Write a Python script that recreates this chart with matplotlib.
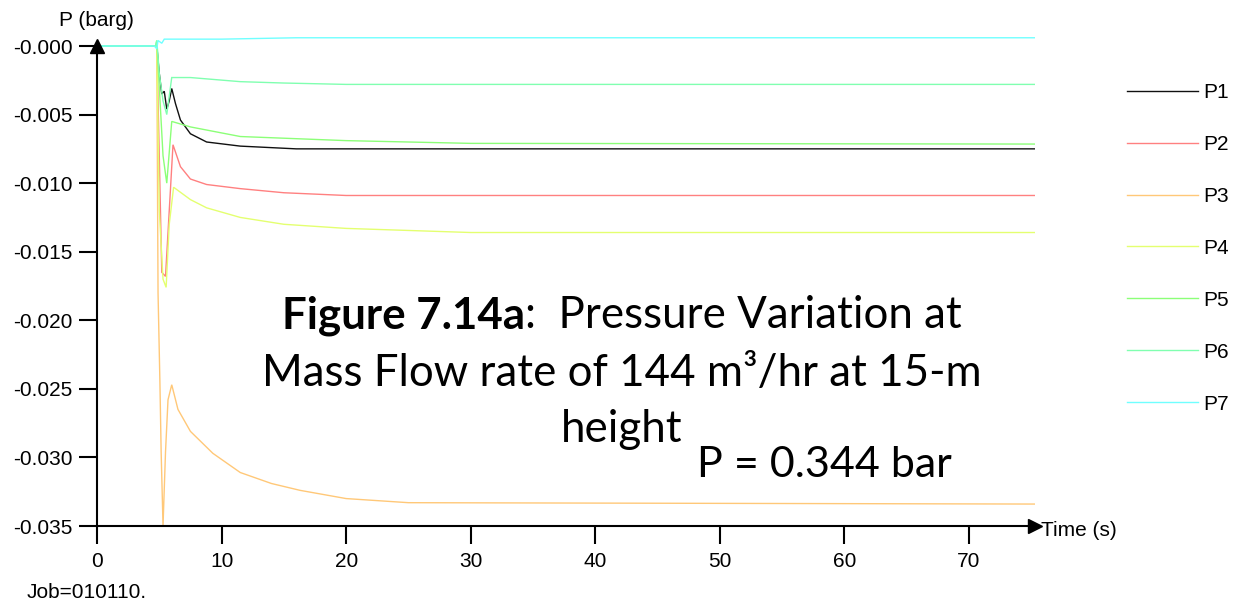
import matplotlib
matplotlib.use("Agg")
import matplotlib.pyplot as plt

plt.rcParams['font.family'] = ['Liberation Sans', 'DejaVu Sans']

# ---- data ----
P1_t = [0, 4.8, 5.0, 5.2, 5.4, 5.6, 5.8, 6.0, 6.3, 6.7, 7.5, 8.8, 11.5, 16, 75.3]
P1_v = [0, 0, -0.0020, -0.0035, -0.0033, -0.0046, -0.0040, -0.0031, -0.0042,
        -0.0054, -0.0064, -0.0070, -0.0073, -0.0075, -0.0075]

P2_t = [0, 4.8, 5.0, 5.2, 5.5, 5.8, 6.1, 6.7, 7.5, 8.8, 11.5, 15, 20, 75.3]
P2_v = [0, 0, -0.0080, -0.0165, -0.0168, -0.0120, -0.0072, -0.0088, -0.0097,
        -0.0101, -0.0104, -0.0107, -0.0109, -0.0109]

P3_t = [0, 4.8, 4.9, 5.05, 5.15, 5.3, 5.5, 5.7, 6.0, 6.5, 7.5, 9.3, 11.5, 14,
        16.3, 20, 25, 75.3]
P3_v = [0, 0, -0.0180, -0.0245, -0.0296, -0.0350, -0.0296, -0.0258, -0.0247,
        -0.0265, -0.0281, -0.0297, -0.0311, -0.0319, -0.0324, -0.0330,
        -0.0333, -0.0334]

P4_t = [0, 4.8, 5.0, 5.3, 5.55, 5.8, 6.15, 7.5, 8.8, 11.5, 15, 20, 30, 75.3]
P4_v = [0, 0, -0.0120, -0.0170, -0.0176, -0.0130, -0.0103, -0.0112, -0.0118,
        -0.0125, -0.0130, -0.0133, -0.0136, -0.0136]

P5_t = [0, 4.7, 4.8, 5.0, 5.3, 5.6, 6.0, 7.5, 11.5, 20, 30, 75.3]
P5_v = [0, 0, 0.0004, -0.0030, -0.0080, -0.0100, -0.0055, -0.0059, -0.0066,
        -0.0069, -0.0071, -0.00715]

P6_t = [0, 4.7, 4.8, 5.0, 5.3, 5.6, 6.0, 7.5, 11.5, 15, 20, 75.3]
P6_v = [0, 0, 0.0004, -0.0020, -0.0040, -0.0050, -0.0023, -0.0023, -0.0026,
        -0.0027, -0.0028, -0.0028]

P7_t = [0, 4.6, 4.8, 4.9, 5.2, 5.4, 6.5, 10, 16, 75.3]
P7_v = [0, 0, -0.0002, 0.0004, 0.0002, 0.0005, 0.0005, 0.0005, 0.0006, 0.0006]

series_names = ["P1", "P2", "P3", "P4", "P5", "P6", "P7"]
series_t = [P1_t, P2_t, P3_t, P4_t, P5_t, P6_t, P7_t]
series_v = [P1_v, P2_v, P3_v, P4_v, P5_v, P6_v, P7_v]
colors = ["#101010", "#FF8080", "#FFC878", "#E4FF70", "#8CFF78", "#80FFB0", "#70FFFF"]

y_ticks = [0, -0.005, -0.010, -0.015, -0.020, -0.025, -0.030, -0.035]
y_tick_labels = ["-0.000", "-0.005", "-0.010", "-0.015", "-0.020", "-0.025",
                 "-0.030", "-0.035"]
x_ticks = [0, 10, 20, 30, 40, 50, 60, 70]

# ---- figure ----
W, H = 1237, 610
fig = plt.figure(figsize=(W / 100, H / 100), dpi=100)
x_end = 75.3
y_top = 0.0008
ax_left, ax_right = 97 / W, 1035 / W
ax_bottom = 1 - 526 / H
px_per_unit = (526 - 46) / 0.035
ax_top = 1 - (46 - y_top * px_per_unit) / H
ax = fig.add_axes([ax_left, ax_bottom, ax_right - ax_left, ax_top - ax_bottom])

for name, t, v, c in zip(series_names, series_t, series_v, colors):
    ax.plot(t, v, color=c, lw=1.0, label=name, solid_joinstyle='miter')

fs_small = 15
ax.set_xlim(0, x_end)
ax.set_ylim(-0.035, y_top)
ax.spines['top'].set_visible(False)
ax.spines['right'].set_visible(False)
for s in ('left', 'bottom'):
    ax.spines[s].set_linewidth(1.5)
ax.spines['left'].set_bounds(-0.035, 0)
ax.set_yticks(y_ticks)
ax.set_yticklabels(y_tick_labels)
ax.set_xticks(x_ticks)
ax.tick_params(axis='both', direction='out', length=13, width=1.5,
               labelsize=fs_small, colors='black')
ax.tick_params(axis='y', pad=4.5)
ax.tick_params(axis='x', pad=6)
ax.plot([0], [0], marker='^', color='black', markersize=10, clip_on=False,
        transform=ax.transData, zorder=5)
ax.plot([1], [0], marker='>', color='black', markersize=10, clip_on=False,
        transform=ax.transAxes, zorder=5)

fig.text(96 / W, 1 - 20 / H, "P (barg)", ha='center', va='center', fontsize=fs_small)
fig.text(1041 / W, 1 - 530 / H, "Time (s)", ha='left', va='center', fontsize=fs_small)
fig.text(27 / W, 1 - 593 / H, "Job=010110.", ha='left', va='center', fontsize=fs_small)

leg = ax.legend(loc='upper left', bbox_to_anchor=(1127 / W, 1 - 83 / H),
                bbox_transform=fig.transFigure, frameon=False, fontsize=fs_small,
                handlelength=3.4, handletextpad=0.25, labelspacing=1.58,
                borderpad=0, borderaxespad=0)

# ---- overlay caption ----
cap_font = ['Lato', 'DejaVu Sans']
fs = 31.6
renderer = fig.canvas.get_renderer()
cx = 622 / W
t1 = fig.text(0, 1 - 328 / H, "Figure 7.14a", fontsize=fs, fontweight='bold',
              family=cap_font, ha='left', va='baseline')
t2 = fig.text(0, 1 - 328 / H, ":  Pressure Variation at", fontsize=fs,
              family=cap_font, ha='left', va='baseline')
w1 = t1.get_window_extent(renderer).width / W
w2 = t2.get_window_extent(renderer).width / W
x0 = cx - (w1 + w2) / 2
t1.set_x(x0)
t2.set_x(x0 + w1)
fig.text(cx, 1 - 386 / H, "Mass Flow rate of 144 m³/hr at 15-m", fontsize=fs,
         family=cap_font, ha='center', va='baseline')
fig.text(cx, 1 - 442 / H, "height", fontsize=fs, family=cap_font,
         ha='center', va='baseline')
fig.text(697 / W, 1 - 477 / H, "P = 0.344 bar", fontsize=31, family=cap_font,
         ha='left', va='baseline')

fig.savefig("out.png", dpi=100)
